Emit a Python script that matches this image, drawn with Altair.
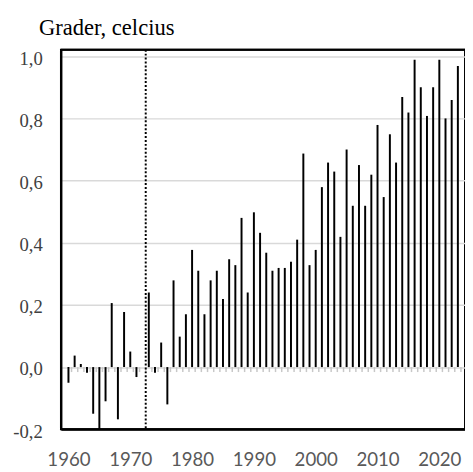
import altair as alt
import pandas as pd

years = list(range(1960, 2024))
values = [
    -0.05, 0.037, 0.01, -0.018, -0.15, -0.20, -0.11, 0.206, -0.168, 0.177,
    0.05, -0.032, 0.0, 0.24, -0.018, 0.079, -0.12, 0.279, 0.098, 0.17,
    0.377, 0.31, 0.17, 0.279, 0.31, 0.219, 0.347, 0.328, 0.48, 0.24,
    0.498, 0.432, 0.368, 0.31, 0.319, 0.319, 0.339, 0.41, 0.687, 0.328,
    0.377, 0.579, 0.658, 0.629, 0.419, 0.70, 0.519, 0.65, 0.519, 0.619,
    0.779, 0.547, 0.749, 0.658, 0.869, 0.819, 0.989, 0.90, 0.808, 0.90,
    0.989, 0.80, 0.859, 0.969,
]
x_ticks = [1960, 1970, 1980, 1990, 2000, 2010, 2020]
y_ticks = [-0.2, 0.0, 0.2, 0.4, 0.6, 0.8, 1.0]
marker_year = [1972.5]
y_title = "Grader, celcius"
y_min, y_max = -0.2, 1.021

df = pd.DataFrame({"year": years, "value": values})
mk = pd.DataFrame({"year": marker_year})

W, H = 412, 387
xscale = alt.Scale(domain=[1959.58, 2023.36], nice=False, zero=False)
yscale = alt.Scale(domain=[y_min, y_max], nice=False, zero=False)

x_axis = alt.Axis(
    values=x_ticks, format="d", title=None, ticks=False, grid=False,
    labelFont="Lato", labelFontSize=19, labelColor="#595959",
    labelPadding=22, domain=True, domainColor="black", domainWidth=2,
    labelFlush=False, labelOverlap=False, zindex=2)

y_axis = alt.Axis(
    values=y_ticks, title=y_title, titleAngle=0, titleAlign="left",
    titleBaseline="alphabetic", titleX=-23, titleY=-16,
    titleFont="Liberation Serif", titleFontSize=23, titleFontWeight="normal",
    titleColor="black",
    labelExpr="replace(replace(format(datum.value, '.1f'), '\u2212', '-'), '.', ',')",
    labelFont="Liberation Serif", labelFontSize=19, labelColor="#404040",
    labelPadding=19, labelOffset=2, ticks=False, tickSize=0,
    grid=True, gridColor="#d9d9d9", gridWidth=1.5,
    domainColor="black", domainWidth=2, labelFlush=False)

zero_ticks = alt.Chart(df).transform_calculate(
    b="datum.year + 0.5", zero="0", zero2="-0.016"
).mark_rule(color="#c8c8c8", strokeWidth=1.5).encode(
    x=alt.X("b:Q", scale=xscale, axis=x_axis, title=None),
    y=alt.Y("zero:Q", scale=yscale, axis=y_axis),
    y2="zero2:Q",
)

bars = alt.Chart(df).mark_bar(size=2, color="black").encode(
    x=alt.X("year:Q", scale=xscale, axis=x_axis, title=None),
    y=alt.Y("value:Q", scale=yscale, axis=y_axis),
)

marker = alt.Chart(mk).mark_rule(color="black", strokeWidth=2, strokeDash=[2, 2]).encode(
    x=alt.X("year:Q", scale=xscale, axis=x_axis, title=None),
    y=alt.value(0),
    y2=alt.value(H),
)

top_frame = alt.Chart(mk).mark_rule(color="black", strokeWidth=2).encode(
    x=alt.value(0), x2=alt.value(W), y=alt.value(0)
)
bottom_frame = alt.Chart(mk).mark_rule(color="black", strokeWidth=2).encode(
    x=alt.value(0), x2=alt.value(W), y=alt.value(H)
)

chart = alt.layer(zero_ticks, bars, marker, top_frame, bottom_frame).properties(
    width=W, height=H,
    autosize=alt.AutoSizeParams(type="none"),
    padding={"left": 54, "top": 38, "right": 0, "bottom": 38},
    background="white",
).configure_view(stroke="black", strokeWidth=2)

chart.save("out.html", embed_options={"renderer": "svg", "actions": False})
